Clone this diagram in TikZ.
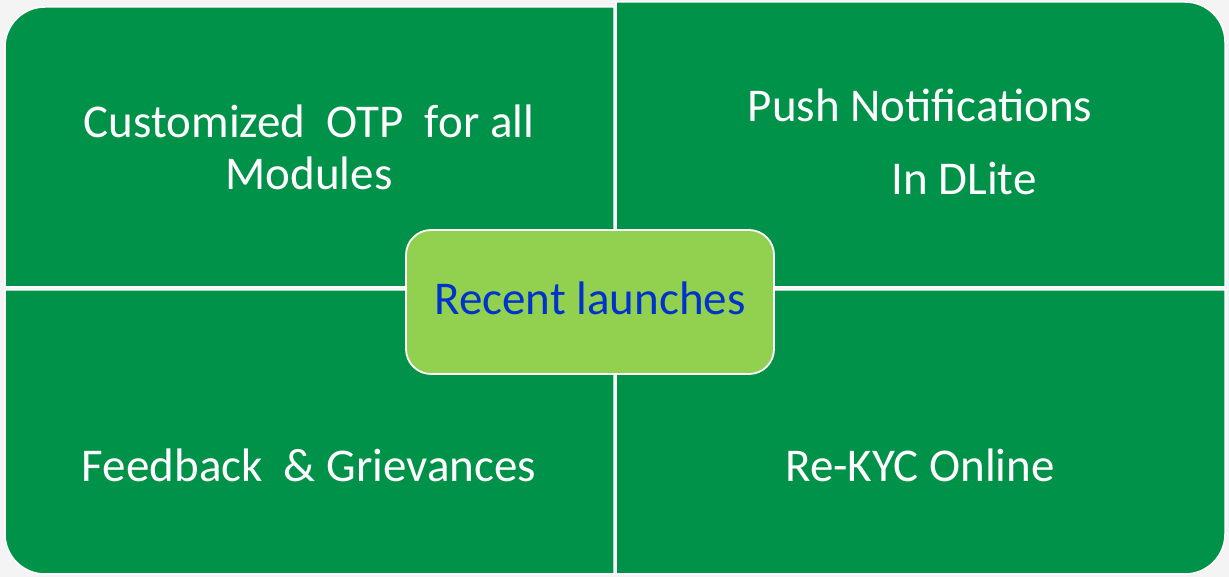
\documentclass[tikz,border=0pt]{standalone}
\usepackage{fontspec}
\setmainfont{Carlito}
\definecolor{verde}{RGB}{0,146,72}
\definecolor{verdechiaro}{RGB}{146,208,80}
\definecolor{blu}{RGB}{0,51,204}
\definecolor{sfondo}{RGB}{244,244,244}
\begin{document}
\begin{tikzpicture}[x=1pt, y=1pt,
		quadrante/.style={fill=verde, draw=white, line width=1.5pt},
		testo/.style={text=white, align=center, inner sep=0pt, anchor=base, font=\fontsize{47}{52}\selectfont},
		centrale/.style={fill=verdechiaro, draw=white, line width=1.8pt, rounded corners=25pt,
			minimum width=368pt, minimum height=144pt, text=blu, text height=25pt, text depth=0pt,
			font=\fontsize{47}{52}\selectfont}]
		% sfondo
		\fill[sfondo] (0,0) rectangle (1229,577);
		\useasboundingbox (0,0) rectangle (1229,577);
		
		% quadranti
		\filldraw[quadrante] (614,290) -- (5,290) -- (5,530) arc[start angle=180, end angle=90, radius=40] -- (614,570) -- cycle;
		\filldraw[quadrante] (616,290) -- (616,575) -- (1185,575) arc[start angle=90, end angle=0, radius=40] -- (1225,290) -- cycle;
		\filldraw[quadrante] (614,287) -- (614,3) -- (45,3) arc[start angle=270, end angle=180, radius=40] -- (5,287) -- cycle;
		\filldraw[quadrante] (616,287) -- (1225,287) -- (1225,43) arc[start angle=0, end angle=-90, radius=40] -- (616,3) -- cycle;
		
		% testi
		\node[testo] (otp) at (309,387) {Customized~ OTP~ for all\\Modules};
		\node[testo] (push) at (920,382) {Push Notifications\\[21pt]\hspace*{88pt}In DLite};
		\node[testo] (feedback) at (309,95) {Feedback~ \& Grievances};
		\node[testo] (kyc) at (920,95) {Re-KYC Online};
		
		% riquadro centrale
		\node[centrale] (lanci) at (590,275) {Recent launches};
	\end{tikzpicture}
\end{document}
